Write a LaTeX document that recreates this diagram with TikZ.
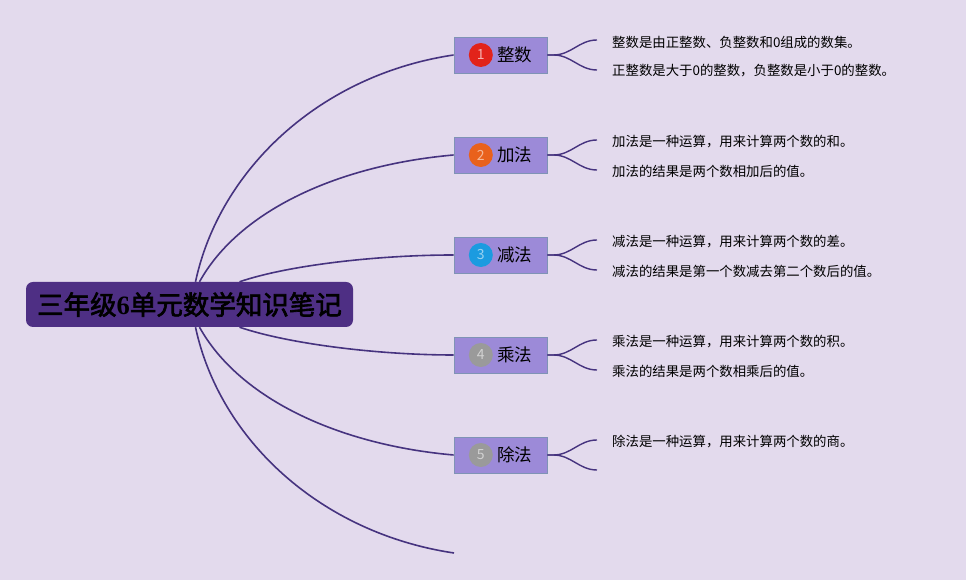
\documentclass[tikz,border=0pt]{standalone}
\usepackage{fontspec}
\setmainfont{Noto Sans CJK SC}[AutoFakeBold=2.5]
\newfontfamily\digitfont{Liberation Serif}
\usetikzlibrary{positioning,calc,backgrounds}

\definecolor{bgcolor}{HTML}{E3DAED}
\definecolor{rootpurple}{HTML}{4E2F84}
\definecolor{boxfill}{HTML}{9C8AD8}
\definecolor{boxline}{HTML}{7F93B5}
\definecolor{linepurple}{HTML}{46337F}
\definecolor{badgered}{HTML}{E2231A}
\definecolor{badgeorange}{HTML}{E9611C}
\definecolor{badgeblue}{HTML}{1B9BE0}
\definecolor{badgegray}{HTML}{9A9A9A}

\begin{document}
\begin{tikzpicture}[
    x=1pt, y=1pt,
    root_box/.style={fill=rootpurple, rounded corners=7pt, minimum width=327pt, minimum height=45pt, inner sep=0pt, text=black, font=\fontsize{26.5}{30}\selectfont\bfseries},
    topic_box/.style={draw=boxline, fill=boxfill, line width=0.8pt, minimum width=93pt, minimum height=36pt},
    badge/.style={circle, minimum size=24pt, inner sep=0pt, font=\fontsize{14}{14}\selectfont},
    topic_text/.style={inner sep=0pt, text=black, font=\fontsize{17.5}{18}\selectfont},
    leaf_text/.style={inner sep=0pt, anchor=west, text=black, font=\fontsize{13.4}{14}\selectfont},
    branch/.style={draw=linepurple, line width=1.6pt},
    twig/.style={draw=linepurple, line width=1.4pt}
]

% ROOT
\node[root_box] (root) at (189.5,275.5) {三年级{\digitfont\bfseries 6}单元数学知识笔记};

% TOPICS
\node[topic_box] (t1) at (500.5,525) {};
\node[topic_box] (t2) at (500.5,425) {};
\node[topic_box] (t3) at (500.5,325) {};
\node[topic_box] (t4) at (500.5,225) {};
\node[topic_box] (t5) at (500.5,125) {};
\coordinate (e6) at (454,27);

% ROOT BRANCHES
\begin{scope}[on background layer]
    \fill[bgcolor] (0,0) rectangle (966,580);
    \draw[branch] ([xshift=6pt]root.north) .. controls +(24,112) and +(-134,-20) .. (t1.west);
    \draw[branch] ([xshift=10pt]root.north) .. controls +(40,72) and +(-114,-10) .. (t2.west);
    \draw[branch] ([xshift=50pt]root.north) .. controls +(50,17) and +(-74,0) .. (t3.west);
    \draw[branch] ([xshift=50pt]root.south) .. controls +(50,-17) and +(-74,0) .. (t4.west);
    \draw[branch] ([xshift=10pt]root.south) .. controls +(40,-72) and +(-114,10) .. (t5.west);
    \draw[branch] ([xshift=6pt]root.south) .. controls +(24,-112) and +(-134,20) .. (e6);
\end{scope}

% BADGES AND LABELS
\node[badge, fill=badgered, text=badgered!35!white, right=15pt of t1.west] (n1) {1};
\node[topic_text, right=4pt of n1] (l1) {整数};
\node[badge, fill=badgeorange, text=badgeorange!45!white, right=15pt of t2.west] (n2) {2};
\node[topic_text, right=4pt of n2] (l2) {加法};
\node[badge, fill=badgeblue, text=badgeblue!45!white, right=15pt of t3.west] (n3) {3};
\node[topic_text, right=4pt of n3] (l3) {减法};
\node[badge, fill=badgegray, text=badgegray!45!white, right=15pt of t4.west] (n4) {4};
\node[topic_text, right=4pt of n4] (l4) {乘法};
\node[badge, fill=badgegray, text=badgegray!45!white, right=15pt of t5.west] (n5) {5};
\node[topic_text, right=4pt of n5] (l5) {除法};

% LEAVES
\coordinate (k1a) at (597,540);
\coordinate (k1b) at (597,510);
\coordinate (k2a) at (597,440);
\coordinate (k2b) at (597,410);
\coordinate (k3a) at (597,340);
\coordinate (k3b) at (597,310);
\coordinate (k4a) at (597,240);
\coordinate (k4b) at (597,210);
\coordinate (k5a) at (597,140);
\coordinate (k5b) at (597,110);

\node[leaf_text] (f1a) at (612,538) {整数是由正整数、负整数和0组成的数集。};
\node[leaf_text] (f1b) at (612,509) {正整数是大于0的整数，负整数是小于0的整数。};
\node[leaf_text] (f2a) at (612,438) {加法是一种运算，用来计算两个数的和。};
\node[leaf_text] (f2b) at (612,409) {加法的结果是两个数相加后的值。};
\node[leaf_text] (f3a) at (612,338) {减法是一种运算，用来计算两个数的差。};
\node[leaf_text] (f3b) at (612,309) {减法的结果是第一个数减去第二个数后的值。};
\node[leaf_text] (f4a) at (612,238) {乘法是一种运算，用来计算两个数的积。};
\node[leaf_text] (f4b) at (612,209) {乘法的结果是两个数相乘后的值。};
\node[leaf_text] (f5a) at (612,138) {除法是一种运算，用来计算两个数的商。};

% TWIGS
\draw[twig] (t1.east) -- ++(6,0) to[out=0,in=180] (k1a);
\draw[twig] (t1.east) -- ++(6,0) to[out=0,in=180] (k1b);
\draw[twig] (t2.east) -- ++(6,0) to[out=0,in=180] (k2a);
\draw[twig] (t2.east) -- ++(6,0) to[out=0,in=180] (k2b);
\draw[twig] (t3.east) -- ++(6,0) to[out=0,in=180] (k3a);
\draw[twig] (t3.east) -- ++(6,0) to[out=0,in=180] (k3b);
\draw[twig] (t4.east) -- ++(6,0) to[out=0,in=180] (k4a);
\draw[twig] (t4.east) -- ++(6,0) to[out=0,in=180] (k4b);
\draw[twig] (t5.east) -- ++(6,0) to[out=0,in=180] (k5a);
\draw[twig] (t5.east) -- ++(6,0) to[out=0,in=180] (k5b);

\end{tikzpicture}
\end{document}
